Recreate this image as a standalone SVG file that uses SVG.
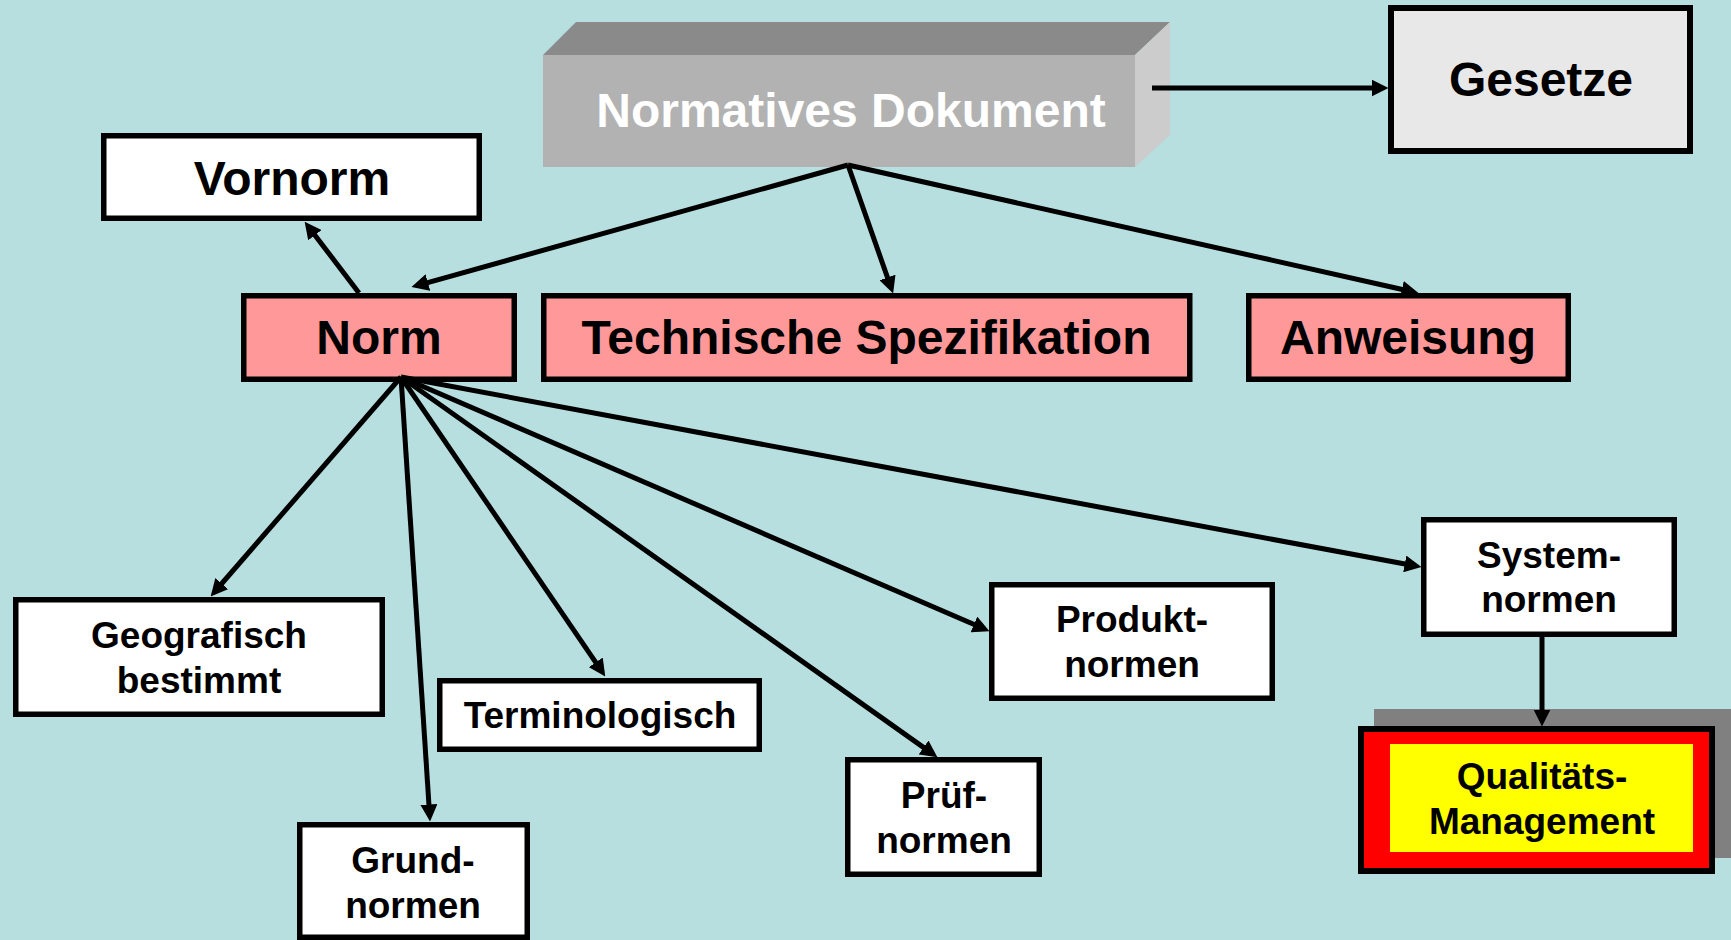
<svg xmlns="http://www.w3.org/2000/svg" width="1731" height="940" viewBox="0 0 1731 940">
<style>
.bg{fill:#b7dfe0}
.box{stroke:#000;stroke-width:5.5}
.w{fill:#ffffff}
.p{fill:#ff9999}
.t48{font-family:"Liberation Sans",Arial,sans-serif;font-weight:bold;font-size:48px;text-anchor:middle;fill:#000}
.t37{font-family:"Liberation Sans",Arial,sans-serif;font-weight:bold;font-size:37px;text-anchor:middle;fill:#000}
.c{fill:none;stroke:#000;stroke-width:5;marker-end:url(#ah)}
</style>
<defs>
<marker id="ah" viewBox="0 0 16 16" markerWidth="17" markerHeight="17" refX="8" refY="8" markerUnits="userSpaceOnUse" orient="auto">
<path d="M0,0 L16,8 L0,16 z" fill="#000"/>
</marker>
</defs>
<rect class="bg" x="0" y="0" width="1731" height="940"/>

<g id="normatives">
<polygon points="543,55 576,22 1170,22 1135,55" fill="#8a8a8a"/>
<polygon points="1135,55 1170,22 1170,135 1135,167" fill="#cccccc"/>
<rect x="543" y="55" width="592" height="112" fill="#b2b2b2"/>
<text class="t48" x="851" y="127" style="fill:#ffffff">Normatives Dokument</text>
</g>

<g id="gesetze">
<rect x="1391" y="8" width="299" height="143" fill="#e8e8e8" stroke="#000" stroke-width="6"/>
<text class="t48" x="1541" y="96">Gesetze</text>
</g>

<g id="vornorm">
<rect class="box w" x="103.75" y="135.75" width="375.5" height="82.5"/>
<text class="t48" x="292" y="195">Vornorm</text>
</g>

<g id="norm">
<rect class="box p" x="243.75" y="295.75" width="270.5" height="83.5"/>
<text class="t48" x="379" y="354">Norm</text>
</g>

<g id="technische">
<rect class="box p" x="543.75" y="295.75" width="646" height="83.5"/>
<text class="t48" x="866.5" y="354">Technische Spezifikation</text>
</g>

<g id="anweisung">
<rect class="box p" x="1248.75" y="295.75" width="319.5" height="83.5"/>
<text class="t48" x="1408" y="354">Anweisung</text>
</g>

<g id="geografisch">
<rect class="box w" x="15.75" y="599.75" width="366.5" height="114.5"/>
<text class="t37" x="199" y="648">Geografisch</text>
<text class="t37" x="199" y="693">bestimmt</text>
</g>

<g id="terminologisch">
<rect class="box w" x="439.75" y="680.75" width="319.5" height="68.5"/>
<text class="t37" x="600" y="728">Terminologisch</text>
</g>

<g id="grundnormen">
<rect class="box w" x="299.75" y="824.75" width="227.5" height="112.5"/>
<text class="t37" x="413" y="873">Grund-</text>
<text class="t37" x="413" y="918">normen</text>
</g>

<g id="pruefnormen">
<rect class="box w" x="847.75" y="759.75" width="191.5" height="114.5"/>
<text class="t37" x="944" y="808">Prüf-</text>
<text class="t37" x="944" y="853">normen</text>
</g>

<g id="produktnormen">
<rect class="box w" x="991.75" y="584.75" width="280.5" height="113.5"/>
<text class="t37" x="1132" y="632">Produkt-</text>
<text class="t37" x="1132" y="677">normen</text>
</g>

<g id="systemnormen">
<rect class="box w" x="1423.75" y="519.75" width="250.5" height="114.5"/>
<text class="t37" x="1549" y="568">System-</text>
<text class="t37" x="1549" y="612">normen</text>
</g>

<g id="qualitaetsmanagement">
<rect x="1374" y="709" width="357" height="149" fill="#808080"/>
<rect x="1361" y="729" width="351" height="142" fill="#ff0000" stroke="#000" stroke-width="6"/>
<rect x="1390" y="744" width="303" height="108" fill="#ffff00"/>
<text class="t37" x="1542" y="789">Qualitäts-</text>
<text class="t37" x="1542" y="834">Management</text>
</g>

<g id="connectors">
<path class="c" d="M1152,88 L1380,88"/>
<path class="c" d="M848,165 L419.7,284.8"/>
<path class="c" d="M848,165 L890.3,285.5"/>
<path class="c" d="M848,165 L1410.2,291.2"/>
<path class="c" d="M359,293 L309.8,228.4"/>
<path class="c" d="M401,377 L216.2,590"/>
<path class="c" d="M401,377 L429.5,813"/>
<path class="c" d="M401,377 L600.5,669.4"/>
<path class="c" d="M401,377 L930.5,752.4"/>
<path class="c" d="M401,377 L981.7,627.8"/>
<path class="c" d="M401,377 L1413.1,565.5"/>
<path class="c" d="M1542,637 L1542,718"/>
</g>
</svg>
